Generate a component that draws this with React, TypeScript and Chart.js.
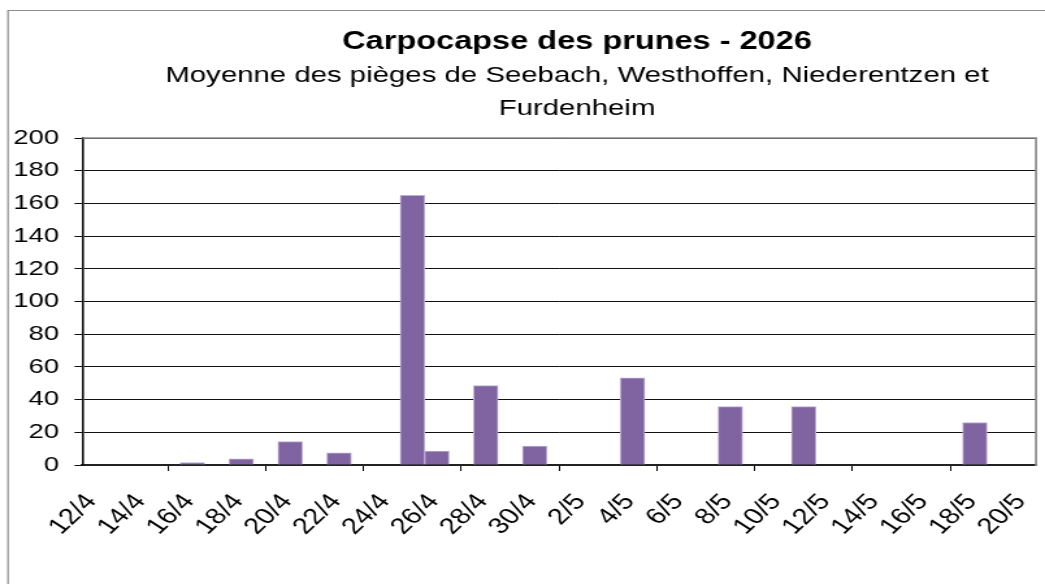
import React, { useEffect, useRef } from 'react';
import { Chart, registerables } from 'chart.js';

Chart.register(...registerables);

const TITLE = 'Carpocapse des prunes - 2026';
const SUBTITLE_LINES = ['Moyenne des pièges de Seebach, Westhoffen, Niederentzen et', 'Furdenheim'];

// one category per day, 12/4 .. 20/5
const DAYS = [
  '12/4', '13/4', '14/4', '15/4', '16/4', '17/4', '18/4', '19/4', '20/4', '21/4',
  '22/4', '23/4', '24/4', '25/4', '26/4', '27/4', '28/4', '29/4', '30/4',
  '1/5', '2/5', '3/5', '4/5', '5/5', '6/5', '7/5', '8/5', '9/5', '10/5',
  '11/5', '12/5', '13/5', '14/5', '15/5', '16/5', '17/5', '18/5', '19/5', '20/5',
];

// mean catches per trap (null = no reading)
const TRAP_MEAN = [
  null, null, null, null, 1.5, null, 3.75, null, 14.25, null,
  7.5, null, null, 165, 8.5, null, 48.5, null, 11.5,
  null, null, null, 53.25, null, null, null, 35.75, null, null,
  35.75, null, null, null, null, null, null, 26, null, null,
];

const Y_MIN = 0;
const Y_MAX = 200;
const Y_STEP = 20;

const FONT = '"Liberation Sans", Arial, sans-serif';
const PAGE_W = 1045;
const PAGE_H = 584;
const CANVAS_W = 804; // drawn narrower, shown stretched like the reference
const SX = PAGE_W / CANVAS_W;

const PLOT_LEFT = 82.3 / SX;
const PLOT_RIGHT = 1036 / SX;
const PLOT_TOP = 138;
const PLOT_BOTTOM = 465;

const framePlugin = {
  id: 'frameAndTitles',
  beforeDraw(chart: any) {
    const ctx = chart.ctx;
    ctx.save();
    ctx.fillStyle = '#ffffff';
    ctx.fillRect(0, 0, chart.width, chart.height);
    ctx.strokeStyle = '#8c8c8c';
    ctx.lineWidth = 1.2;
    ctx.beginPath();
    ctx.moveTo(8 / SX, chart.height + 5);
    ctx.lineTo(8 / SX, 10.5);
    ctx.lineTo(chart.width + 5, 10.5);
    ctx.stroke();
    ctx.restore();
  },
  afterDraw(chart: any) {
    const ctx = chart.ctx;
    const a = chart.chartArea;
    ctx.save();
    ctx.strokeStyle = '#8c8c8c';
    ctx.lineWidth = 1.7;
    ctx.beginPath();
    ctx.moveTo(a.left, a.top);
    ctx.lineTo(a.right, a.top);
    ctx.lineTo(a.right, a.bottom + 1);
    ctx.stroke();
    const cx = 577 / SX;
    ctx.fillStyle = '#000';
    ctx.textAlign = 'center';
    ctx.textBaseline = 'alphabetic';
    ctx.font = `bold 25px ${FONT}`;
    ctx.fillText(TITLE, cx, 49);
    ctx.font = `22.6px ${FONT}`;
    ctx.fillText(SUBTITLE_LINES[0], cx, 82);
    ctx.fillText(SUBTITLE_LINES[1], cx, 115);
    ctx.restore();
  },
};

export default function App() {
  const canvasRef = useRef<HTMLCanvasElement | null>(null);

  useEffect(() => {
    const canvas = canvasRef.current;
    if (!canvas) return;
    const dayWidth = (PLOT_RIGHT - PLOT_LEFT) / DAYS.length;
    const chart = new Chart(canvas, {
      type: 'bar',
      data: {
        labels: DAYS,
        datasets: [
          {
            data: TRAP_MEAN as any,
            backgroundColor: '#8064a2',
            borderColor: '#bcaed3',
            borderWidth: 1,
            barPercentage: 1,
            categoryPercentage: 1,
          },
        ],
      },
      options: {
        animation: false,
        responsive: false,
        devicePixelRatio: 1,
        layout: {
          padding: { left: 10, right: CANVAS_W - PLOT_RIGHT, top: PLOT_TOP, bottom: 0 },
        },
        plugins: {
          legend: { display: false },
          tooltip: { enabled: false },
          title: { display: false },
        },
        scales: {
          x: {
            type: 'category',
            offset: true,
            grid: {
              offset: true,
              drawOnChartArea: false,
              drawTicks: true,
              tickLength: 6,
              color: (c: any) => (c.index % 2 === 0 ? '#000' : 'rgba(0,0,0,0)'),
              lineWidth: 1,
            },
            border: { display: true, color: '#222', width: 2 },
            ticks: {
              autoSkip: false,
              maxRotation: 50,
              minRotation: 50,
              labelOffset: -dayWidth / 2 + 7,
              padding: 18,
              color: '#000',
              font: { family: FONT, size: 22.5 },
              callback: function (this: any, value: any, index: number) {
                return index % 2 === 0 ? DAYS[index] : null;
              },
            },
            afterFit: (scale: any) => {
              scale.height = PAGE_H - PLOT_BOTTOM;
              scale.paddingLeft = 0;
              scale.paddingRight = 0;
            },
          },
          y: {
            min: Y_MIN,
            max: Y_MAX,
            grid: {
              color: '#111',
              lineWidth: 1,
              tickLength: 6,
              drawTicks: true,
            },
            border: { display: true, color: '#111', width: 1.6 },
            ticks: {
              stepSize: Y_STEP,
              padding: 12,
              color: '#000',
              font: { family: FONT, size: 21 },
            },
            afterFit: (scale: any) => {
              scale.width = PLOT_LEFT - 10;
              scale.paddingTop = 0;
              scale.paddingBottom = 0;
            },
          },
        },
      },
      plugins: [framePlugin],
    });
    return () => chart.destroy();
  }, []);

  return (
    <div style={{ position: 'fixed', left: 0, top: 0, width: PAGE_W, height: PAGE_H, overflow: 'hidden', background: '#fff' }}>
      <canvas
        ref={canvasRef}
        width={CANVAS_W}
        height={PAGE_H}
        style={{ width: `${PAGE_W}px`, height: `${PAGE_H}px`, display: 'block' }}
      />
    </div>
  );
}
